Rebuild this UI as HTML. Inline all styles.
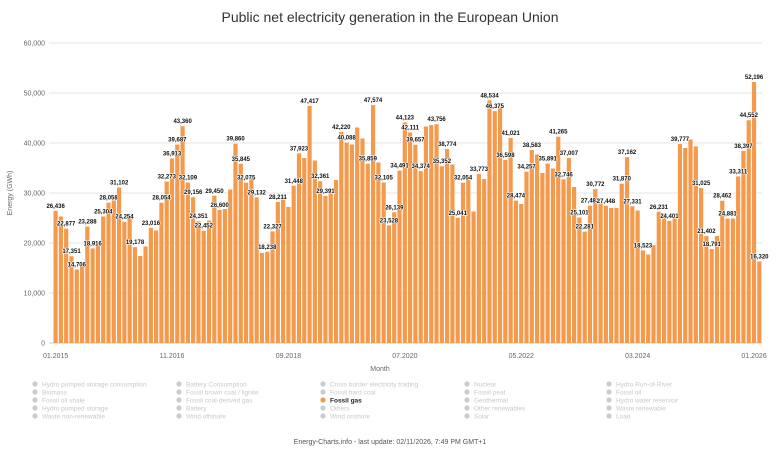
<!DOCTYPE html>
<html><head><meta charset="utf-8">
<style>
body{margin:0;background:#fff;}
svg{display:block;font-family:"Liberation Sans",sans-serif;}
</style></head>
<body>
<svg id="chart" width="780" height="450" viewBox="0 0 780 450" xmlns="http://www.w3.org/2000/svg">
<rect x="0" y="0" width="780" height="450" fill="#fff"/>
<text x="390" y="22" text-anchor="middle" font-size="14" fill="#333">Public net electricity generation in the European Union</text>
<g id="grid"></g>
<g id="yticks"></g>
<g id="bars"></g>
<g id="labels"></g>
<g id="xticks"></g>
<text x="12" y="193" transform="rotate(-90 12 193)" text-anchor="middle" font-size="7" fill="#666">Energy (GWh)</text>
<text x="380" y="371" text-anchor="middle" font-size="7" fill="#666">Month</text>
<g id="legend"></g>
<text x="390" y="444" text-anchor="middle" font-size="7" fill="#555">Energy-Charts.info - last update: 02/11/2026, 7:49 PM GMT+1</text>
</svg>
<script>
const values = [26436,25300,22877,17351,14706,15400,23288,18916,19900,25304,28058,28500,31102,24254,24900,19178,17400,19300,23016,22500,28054,32273,36913,39687,43360,32109,29156,24351,22452,24500,29450,26600,26800,30700,39860,35845,32075,33300,29132,18000,18238,22327,28211,29400,27200,31448,37923,37000,47417,36500,32361,29391,30000,32600,42220,40088,39700,43100,40900,35859,47574,36100,32105,23528,26139,34491,44123,42111,39657,34374,43300,43600,43756,35352,38774,35700,25041,32054,32600,26300,33773,32800,48534,46375,47800,36598,41021,28474,27800,34257,38583,37700,34000,35891,34900,41265,32746,37007,31200,25101,22281,27482,30772,28300,27448,27000,27000,31870,37162,27331,26500,18523,17700,19600,26231,25900,24401,24900,39777,39000,40700,39300,31025,21402,18791,21400,28462,24881,24900,33311,38397,44552,52196,16320];
const labeledIdx = [0,2,3,4,6,7,9,10,12,13,15,18,20,21,22,23,24,25,26,27,28,30,31,34,35,36,38,40,41,42,45,46,48,50,51,54,55,59,60,62,63,64,65,66,67,68,69,72,73,74,76,77,80,82,83,85,86,87,89,90,93,95,96,97,99,100,101,102,104,107,108,109,111,114,116,118,122,123,124,126,127,129,130,131,132,133];
const yTicks = [0,10000,20000,30000,40000,50000,60000];
const xTickIdx = [0,22,44,66,88,110,132];
const xTickLabels = ["01.2015","11.2016","09.2018","07.2020","05.2022","03.2024","01.2026"];
const legendCols = [
 ["Hydro pumped storage consumption","Biomass","Fossil oil shale","Hydro pumped storage","Waste non-renewable"],
 ["Battery Consumption","Fossil brown coal / lignite","Fossil coal-derived gas","Battery","Wind offshore"],
 ["Cross border electricity trading","Fossil hard coal","Fossil gas","Others","Wind onshore"],
 ["Nuclear","Fossil peat","Geothermal","Other renewables","Solar"],
 ["Hydro Run-of-River","Fossil oil","Hydro water reservoir","Waste renewable","Load"]
];
const NS="http://www.w3.org/2000/svg";
const X0=53, PW=709, Y0=343, PH=300, YMAX=60000;
const band = PW/values.length;
function xs(i){return X0+i*band;}
function ys(v){return Y0-v/YMAX*PH;}
function mk(tag,attrs,parent){const e=document.createElementNS(NS,tag);for(const k in attrs)e.setAttribute(k,attrs[k]);parent.appendChild(e);return e;}
const grid=document.getElementById('grid'),yt=document.getElementById('yticks');
yTicks.forEach(t=>{
 const l=mk('line',{x1:X0-4,x2:X0+PW,y1:ys(t),y2:ys(t),stroke:t===0?'#ccc':'#e6e6e6','stroke-width':1},grid);
 
 
 const tx=mk('text',{x:X0-8,y:ys(t)+2.5,'text-anchor':'end','font-size':7,fill:'#666'},yt);
 tx.textContent=t.toLocaleString('en-US');
 
 
});
const bars=document.getElementById('bars');
values.forEach((v,i)=>{
 const r=mk('rect',{x:xs(i)+0.5,y:ys(v),width:band-1.1,height:Y0-ys(v),fill:'#f39a4c'},bars);
 
 
});
const lg=document.getElementById('labels');
labeledIdx.forEach(i=>{
 const t=mk('text',{x:xs(i)+band/2,y:ys(values[i])-3,'text-anchor':'middle','font-size':6,'font-weight':'bold',fill:'#111',stroke:'#fff','stroke-width':1.2,'paint-order':'stroke'},lg);
 t.textContent=values[i].toLocaleString('en-US');
 
 
});
const xt=document.getElementById('xticks');
xTickIdx.forEach((i,k)=>{
 const t=mk('text',{x:xs(i)+band/2,y:358,'text-anchor':'middle','font-size':7,fill:'#666'},xt);
 t.textContent=xTickLabels[k];
 
 
});
const leg=document.getElementById('legend');
const colX=[35,179,323,467,609];
legendCols.forEach((col,c)=>col.forEach((name,r)=>{
 const active=name==="Fossil gas";
 const y=384+r*8;
 const g=mk('g',{},leg);
 
 
 mk('circle',{cx:colX[c],cy:y,r:2.6,fill:active?'#f39a4c':'#ccc'},g);
 const t=mk('text',{x:colX[c]+7,y:y+2.3,'font-size':6.5,fill:active?'#222':'#c8c8c8','font-weight':active?'bold':'normal'},g);
 t.textContent=name;
}));
</script>
</body></html>
